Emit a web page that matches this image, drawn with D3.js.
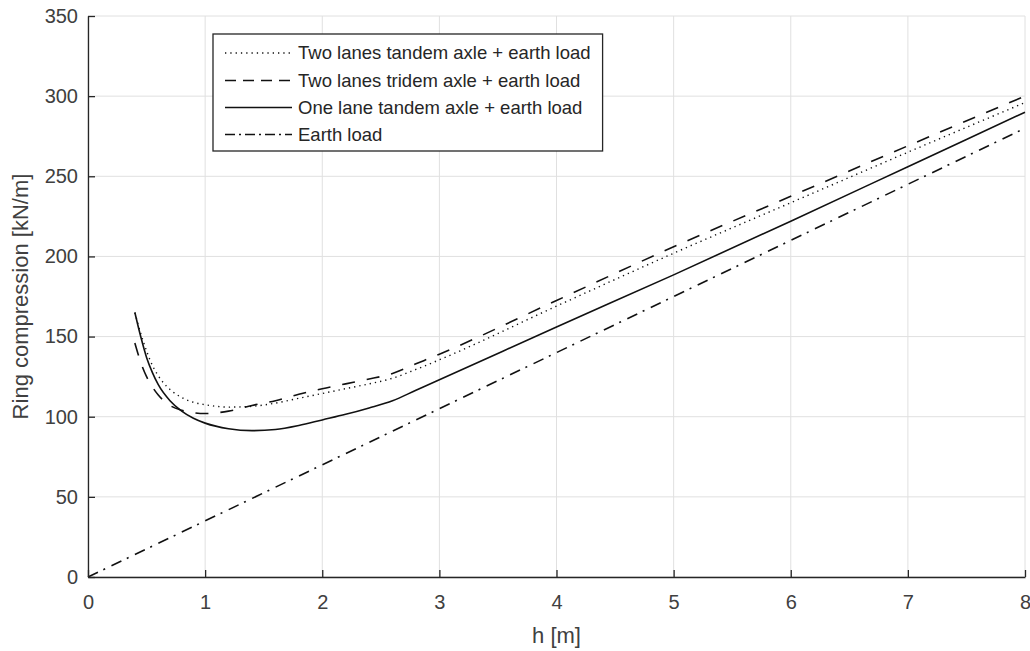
<!DOCTYPE html>
<html>
<head>
<meta charset="utf-8">
<script src="https://cdn.jsdelivr.net/npm/d3@7"></script>
<style>
  html, body { margin: 0; padding: 0; background: #fff; }
  svg { display: block; font-family: "Liberation Sans", Arial, Helvetica, sans-serif; }
</style>
</head>
<body>
<svg id="chart" width="1030" height="651"></svg>
<script>
// ---- data ----
const hValues = [0.4, 0.45, 0.5, 0.55, 0.6, 0.7, 0.8, 0.9, 1.0, 1.2, 1.4, 1.6, 1.8, 2.0, 2.2, 2.4, 2.6, 2.8, 3.0, 4, 5, 6, 7, 8];
const twoLanesTandem = [165, 152, 141, 132, 125.5, 117, 112, 109, 107.5, 106, 106.5, 108.5, 111.5, 114.5, 117.5, 120.5, 124, 129.5, 135.5, 169, 202, 233.5, 265, 296];
const twoLanesTridem = [146, 134, 125, 118.5, 113.5, 107, 104, 102.5, 102, 103.5, 107, 110, 114, 117.5, 120.5, 123.5, 127, 133, 139, 172.5, 206, 237.5, 269, 300];
const oneLaneTandem  = [165, 150, 137, 127.5, 120, 110, 103.5, 99, 96, 92.5, 91.3, 92, 94.5, 98, 101.5, 105.5, 110, 116.5, 123, 156, 188.5, 222, 256, 290];
const earthH = [0, 8];
const earthLoad = [0, 280];

const xTicks = [0, 1, 2, 3, 4, 5, 6, 7, 8];
const yTicks = [0, 50, 100, 150, 200, 250, 300, 350];
const seriesNames = [
  "Two lanes tandem axle + earth load",
  "Two lanes tridem axle + earth load",
  "One lane tandem axle + earth load",
  "Earth load"
];

// ---- layout ----
const svg = d3.select("#chart");
const mLeft = 88, mRight = 1025, mTop = 16, mBottom = 577;
const x = d3.scaleLinear().domain([0, 8]).range([mLeft, mRight]);
const y = d3.scaleLinear().domain([0, 350]).range([mBottom, mTop]);
const axisColor = "#262626";
const textColor = "#404040";

// grid
const grid = svg.append("g");
grid.selectAll("line.gx").data(xTicks).join("line")
  .attr("x1", d => x(d)).attr("x2", d => x(d))
  .attr("y1", mTop).attr("y2", mBottom)
  .attr("stroke", "#e0e0e0").attr("stroke-width", 1);
grid.selectAll("line.gy").data(yTicks).join("line")
  .attr("x1", mLeft).attr("x2", mRight)
  .attr("y1", d => y(d)).attr("y2", d => y(d))
  .attr("stroke", "#e0e0e0").attr("stroke-width", 1);

// series
const styles = [
  { dash: "1.3,4", width: 1.4 },
  { dash: "13,12", width: 1.6 },
  { dash: null, width: 1.6 },
  { dash: "11,6,2,7", width: 1.6 }
];
const legendDash = ["1.3,4", "11,7", null, "10,4,2,4"];

const line = d3.line().x(d => x(d[0])).y(d => y(d[1])).curve(d3.curveMonotoneX);
const series = [
  hValues.map((h, i) => [h, twoLanesTandem[i]]),
  hValues.map((h, i) => [h, twoLanesTridem[i]]),
  hValues.map((h, i) => [h, oneLaneTandem[i]]),
  earthH.map((h, i) => [h, earthLoad[i]])
];
const plot = svg.append("g");
series.forEach((s, i) => {
  plot.append("path")
    .attr("d", line(s))
    .attr("fill", "none")
    .attr("stroke", "#111")
    .attr("stroke-width", styles[i].width)
    .attr("stroke-dasharray", styles[i].dash);
});

// axes
const xAxis = d3.axisBottom(x).tickValues(xTicks).tickFormat(d3.format("d"))
  .tickSizeInner(-7).tickSizeOuter(0).tickPadding(18);
const yAxis = d3.axisLeft(y).tickValues(yTicks).tickFormat(d3.format("d"))
  .tickSizeInner(-7).tickSizeOuter(0).tickPadding(10);
const gx = svg.append("g").attr("transform", `translate(0,${mBottom})`).call(xAxis);
const gy = svg.append("g").attr("transform", `translate(${mLeft},0)`).call(yAxis);
[gx, gy].forEach(g => {
  g.select(".domain").attr("stroke", axisColor).attr("stroke-width", 1.3);
  g.selectAll(".tick line").attr("stroke", axisColor).attr("stroke-width", 1.3);
  g.selectAll(".tick text").attr("fill", textColor)
    .style("font-size", "20px").style("font-family", "'Liberation Sans', Arial, sans-serif");
});

// axis labels
svg.append("text")
  .attr("x", (mLeft + mRight) / 2).attr("y", 643)
  .attr("text-anchor", "middle").attr("fill", textColor)
  .style("font-size", "22px").text("h [m]");
svg.append("text")
  .attr("transform", `translate(28,${(mTop + mBottom) / 2}) rotate(-90)`)
  .attr("text-anchor", "middle").attr("fill", textColor)
  .style("font-size", "22px").text("Ring compression [kN/m]");

// legend
const lg = svg.append("g");
const lgLeft = 213, lgTop = 34, lgBottom = 151;
const rowY = [53, 80.5, 107.5, 134.5];
const box = lg.append("rect")
  .attr("x", lgLeft).attr("y", lgTop).attr("height", lgBottom - lgTop)
  .attr("fill", "#fff").attr("stroke", axisColor).attr("stroke-width", 1.3);
let maxW = 0;
seriesNames.forEach((name, i) => {
  lg.append("line")
    .attr("x1", 225).attr("x2", 292)
    .attr("y1", rowY[i]).attr("y2", rowY[i])
    .attr("stroke", "#111").attr("stroke-width", styles[i].width)
    .attr("stroke-dasharray", legendDash[i]);
  const t = lg.append("text")
    .attr("x", 298).attr("y", rowY[i]).attr("dy", "0.35em")
    .attr("fill", "#262626").style("font-size", "18.5px").text(name);
  maxW = Math.max(maxW, t.node().getComputedTextLength());
});
box.attr("width", 298 + maxW + 12 - lgLeft);
</script>
</body>
</html>
